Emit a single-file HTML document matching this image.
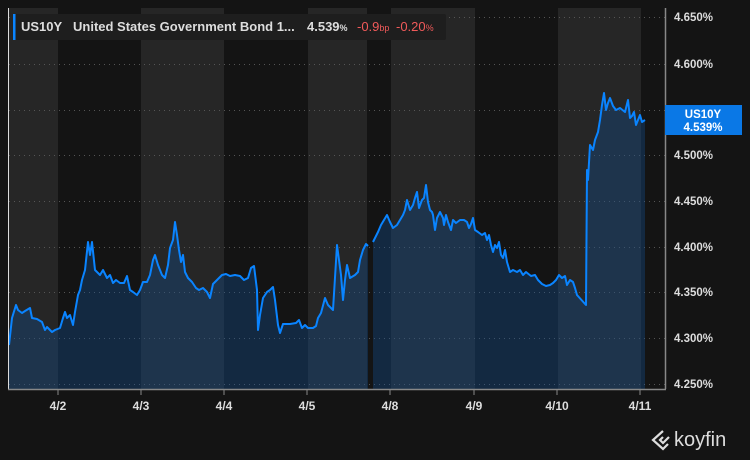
<!DOCTYPE html>
<html><head><meta charset="utf-8"><style>
body{margin:0;background:#141414;width:750px;height:460px;overflow:hidden;font-family:"Liberation Sans",sans-serif}
svg{position:absolute;left:0;top:0}
</style></head><body>
<svg width="750" height="460" xmlns="http://www.w3.org/2000/svg" font-family="Liberation Sans, sans-serif">
<rect width="750" height="460" fill="#141414"/>
<g fill="#262626">
<rect x="9" y="8" width="49" height="381"/>
<rect x="141" y="8" width="83" height="381"/>
<rect x="308" y="8" width="59" height="381"/>
<rect x="391" y="8" width="84" height="381"/>
<rect x="558" y="8" width="83" height="381"/>
</g>
<g stroke="#555" stroke-dasharray="1,4" stroke-width="1">
<line x1="9" x2="665" y1="17.5" y2="17.5"/><line x1="9" x2="665" y1="64.5" y2="64.5"/>
<line x1="9" x2="665" y1="110.5" y2="110.5"/><line x1="9" x2="665" y1="155.5" y2="155.5"/>
<line x1="9" x2="665" y1="201.5" y2="201.5"/><line x1="9" x2="665" y1="247.5" y2="247.5"/>
<line x1="9" x2="665" y1="292.5" y2="292.5"/><line x1="9" x2="665" y1="338.5" y2="338.5"/>
<line x1="9" x2="665" y1="384.5" y2="384.5"/>
</g>
<g fill="rgba(16,80,150,0.35)">
<polygon points="9,389 9,345 12,318 16,305 18,310 22,313 25,311 30,308 32,318 37,319 42,322 45,330 47,327 52,332 55,330 60,328 63,318 65,312 67,318 70,315 73,325 75,312 78,295 80,290 82,280 85,270 88,242 90,255 92,242 95,270 97,272 100,275 103,270 107,278 110,275 113,283 116,280 120,283 124,283 127,276 130,290 133,292 137,295 140,290 143,282 147,282 150,275 153,260 155,255 158,265 162,275 165,278 168,265 170,248 173,240 175,222 177,235 179,250 181,262 183,255 185,272 188,278 192,282 196,288 199,290 203,288 207,292 210,298 213,284 217,280 222,275 226,274 230,276 235,275 240,276 244,280 248,278 251,268 254,266 257,290 258,330 260,315 263,298 267,292 270,290 273,287 275,300 278,325 280,333 283,324 290,324 296,323 299,320 302,328 305,325 308,328 313,328 316,326 318,318 321,313 325,298 328,305 333,310 337,245 339,260 341,275 343,300 345,280 347,265 350,278 355,275 358,272 360,260 363,250 366,244 368,246 368,389"/>
<polygon points="373,389 373,242 378,232 381,225 384,220 387,215 390,222 393,228 397,225 400,220 403,215 405,210 407,200 410,210 413,205 415,198 417,192 419,208 422,200 424,198 426,185 428,202 430,210 432,212 433,215 435,230 437,218 440,212 443,218 444,225 446,215 448,222 451,230 453,220 456,223 460,220 464,220 467,222 469,228 471,224 473,218 475,230 478,232 482,235 485,233 487,240 489,235 491,245 493,252 495,245 497,248 499,242 501,255 503,258 505,250 507,262 510,272 513,270 517,272 520,270 523,275 526,272 531,276 535,275 538,280 542,284 546,286 550,285 553,283 556,280 559,275 562,278 565,276 567,285 570,280 573,282 575,288 577,295 586,305 587,170 588,180 590,145 593,150 595,140 598,132 600,120 602,105 604,93 606,110 608,103 610,98 613,106 616,110 620,108 625,112 628,100 630,118 632,116 634,112 636,125 638,120 640,115 642,122 645,120 645,389"/>
</g>
<g fill="none" stroke="#0a84ff" stroke-width="2" stroke-linejoin="round">
<polyline points="9,345 12,318 16,305 18,310 22,313 25,311 30,308 32,318 37,319 42,322 45,330 47,327 52,332 55,330 60,328 63,318 65,312 67,318 70,315 73,325 75,312 78,295 80,290 82,280 85,270 88,242 90,255 92,242 95,270 97,272 100,275 103,270 107,278 110,275 113,283 116,280 120,283 124,283 127,276 130,290 133,292 137,295 140,290 143,282 147,282 150,275 153,260 155,255 158,265 162,275 165,278 168,265 170,248 173,240 175,222 177,235 179,250 181,262 183,255 185,272 188,278 192,282 196,288 199,290 203,288 207,292 210,298 213,284 217,280 222,275 226,274 230,276 235,275 240,276 244,280 248,278 251,268 254,266 257,290 258,330 260,315 263,298 267,292 270,290 273,287 275,300 278,325 280,333 283,324 290,324 296,323 299,320 302,328 305,325 308,328 313,328 316,326 318,318 321,313 325,298 328,305 333,310 337,245 339,260 341,275 343,300 345,280 347,265 350,278 355,275 358,272 360,260 363,250 366,244 368,246"/>
<polyline points="373,242 378,232 381,225 384,220 387,215 390,222 393,228 397,225 400,220 403,215 405,210 407,200 410,210 413,205 415,198 417,192 419,208 422,200 424,198 426,185 428,202 430,210 432,212 433,215 435,230 437,218 440,212 443,218 444,225 446,215 448,222 451,230 453,220 456,223 460,220 464,220 467,222 469,228 471,224 473,218 475,230 478,232 482,235 485,233 487,240 489,235 491,245 493,252 495,245 497,248 499,242 501,255 503,258 505,250 507,262 510,272 513,270 517,272 520,270 523,275 526,272 531,276 535,275 538,280 542,284 546,286 550,285 553,283 556,280 559,275 562,278 565,276 567,285 570,280 573,282 575,288 577,295 586,305 587,170 588,180 590,145 593,150 595,140 598,132 600,120 602,105 604,93 606,110 608,103 610,98 613,106 616,110 620,108 625,112 628,100 630,118 632,116 634,112 636,125 638,120 640,115 642,122 645,120"/>
</g>
<line x1="8.5" y1="8" x2="8.5" y2="389" stroke="#ddd" stroke-width="1"/>
<line x1="665.5" y1="8" x2="665.5" y2="389" stroke="#888" stroke-width="1.5"/>
<line x1="8" y1="389.5" x2="666" y2="389.5" stroke="#888" stroke-width="1.5"/>
<g stroke="#888"><line x1="58" x2="58" y1="389" y2="395"/><line x1="141" x2="141" y1="389" y2="395"/><line x1="224" x2="224" y1="389" y2="395"/><line x1="307" x2="307" y1="389" y2="395"/><line x1="390" x2="390" y1="389" y2="395"/><line x1="474" x2="474" y1="389" y2="395"/><line x1="557" x2="557" y1="389" y2="395"/><line x1="640" x2="640" y1="389" y2="395"/></g>
<g fill="#ddd" font-size="12" font-weight="bold" text-anchor="middle">
<text x="58" y="410">4/2</text><text x="141" y="410">4/3</text><text x="224" y="410">4/4</text><text x="307" y="410">4/5</text><text x="390" y="410">4/8</text><text x="474" y="410">4/9</text><text x="557" y="410">4/10</text><text x="640" y="410">4/11</text>
</g>
<g fill="#ddd" font-size="11.5" font-weight="bold">
<text x="674" y="21">4.650%</text><text x="674" y="68">4.600%</text><text x="674" y="159">4.500%</text><text x="674" y="205">4.450%</text><text x="674" y="251">4.400%</text><text x="674" y="296">4.350%</text><text x="674" y="342">4.300%</text><text x="674" y="388">4.250%</text>
</g>
<rect x="665" y="105" width="77" height="30" fill="#0a78e6"/>
<g fill="#fff" font-size="11.5" font-weight="bold" text-anchor="middle"><text x="703" y="118">US10Y</text><text x="703" y="131">4.539%</text></g>
<rect x="13" y="14" width="433" height="26" rx="2" fill="#1e1e1e"/>
<rect x="13" y="14" width="2.5" height="26" fill="#0a84ff"/>
<g font-size="13" font-weight="bold" fill="#ddd">
<text x="21" y="31">US10Y</text><text x="73" y="31">United States Government Bond 1...</text>
<text x="307" y="31">4.539<tspan font-size="9">%</tspan></text>
<text x="357" y="31" fill="#f05a5a" font-weight="normal">-0.9<tspan font-size="9">bp</tspan></text>
<text x="396" y="31" fill="#f05a5a" font-weight="normal">-0.20<tspan font-size="9">%</tspan></text>
</g>
<g fill="none" stroke="#ddd" stroke-width="2.2">
<path d="M663,431 L653,440 L663,449 L668,444"/><path d="M663,437 L660,440 L663,443 L669,437"/>
</g>
<text x="674" y="446" font-size="20" fill="#ddd">koyfin</text>
</svg>
</body></html>
